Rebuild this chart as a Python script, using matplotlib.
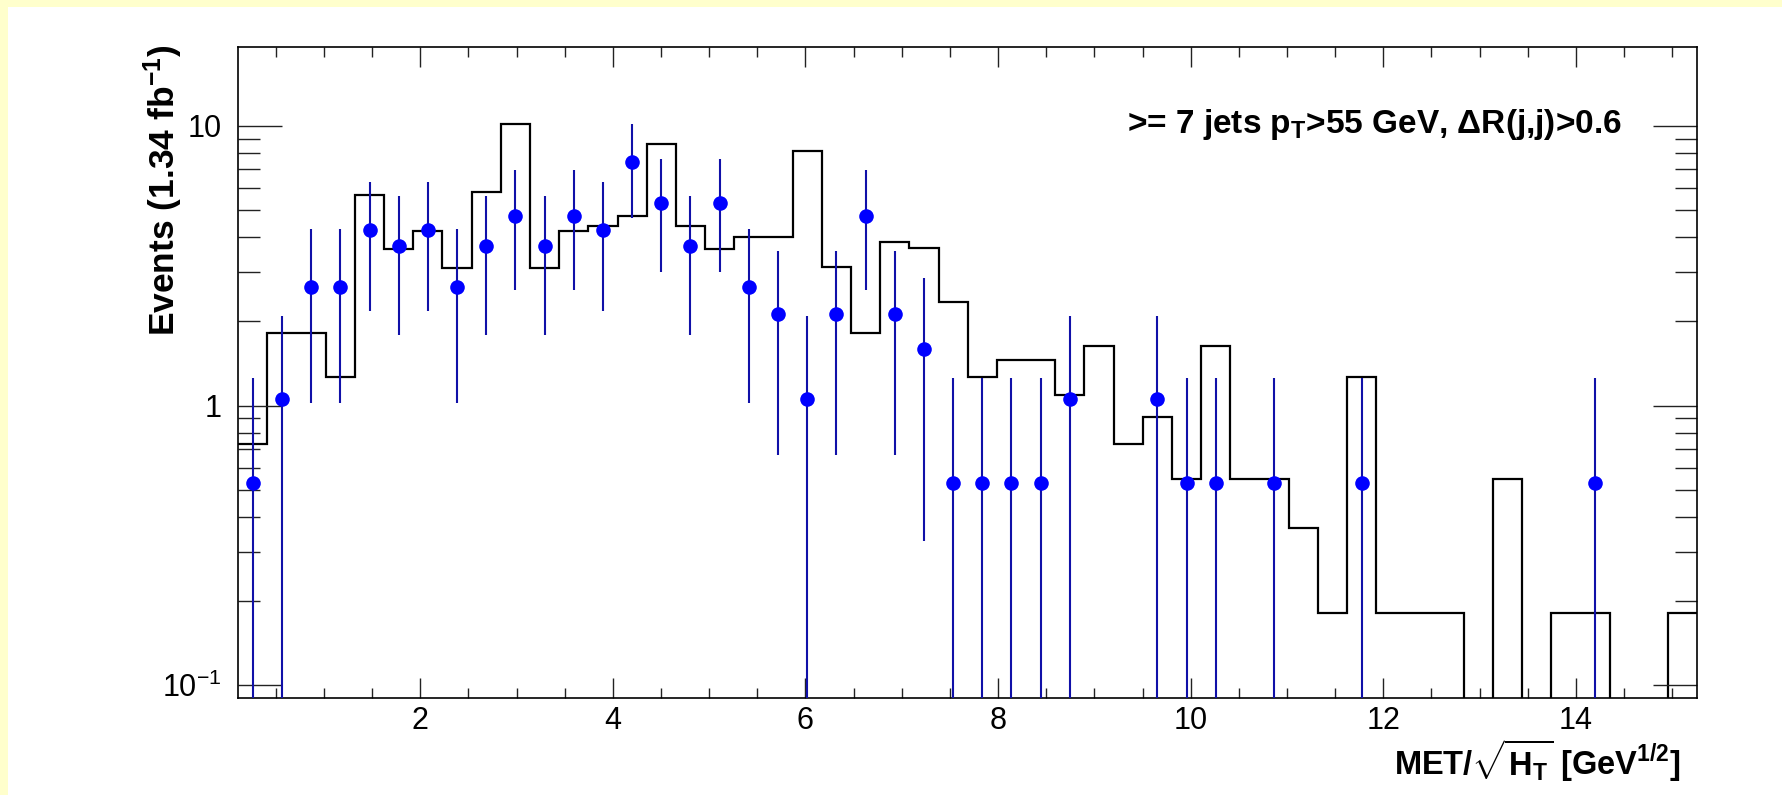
import numpy as np
import matplotlib
matplotlib.use("Agg")
import matplotlib.pyplot as plt
from matplotlib.patches import Rectangle
from matplotlib.ticker import FixedLocator, MultipleLocator, NullFormatter, LogLocator

plt.rcParams['font.family'] = ['Liberation Sans', 'DejaVu Sans']
plt.rcParams['mathtext.fontset'] = 'custom'
plt.rcParams['mathtext.rm'] = 'Liberation Sans'
plt.rcParams['mathtext.bf'] = 'Liberation Sans:bold'
plt.rcParams['mathtext.it'] = 'Liberation Sans:italic'
plt.rcParams['mathtext.sf'] = 'Liberation Sans'

# ---- data ----
x_min, x_max, n_bins = 0.109, 15.26, 50

mc_values = [0.73, 1.82, 1.82, 1.27, 5.68, 3.63, 4.21, 3.11, 5.81, 10.2,
             3.11, 4.21, 4.38, 4.77, 8.62, 4.39, 3.64, 4.00, 4.00, 8.16,
             3.12, 1.82, 3.84, 3.65, 2.35, 1.27, 1.46, 1.46, 1.09, 1.63,
             0.73, 0.91, 0.545, 1.63, 0.545, 0.545, 0.364, 0.182, 1.27, 0.182,
             0.182, 0.182, 0.0, 0.545, 0.0, 0.182, 0.182, 0.0, 0.0, 0.182]

data_values = [0.53, 1.06, 2.65, 2.65, 4.24, 3.71, 4.24, 2.65, 3.71, 4.77,
               3.71, 4.77, 4.24, 7.42, 5.30, 3.71, 5.30, 2.65, 2.12, 1.06,
               2.12, 4.77, 2.12, 1.59, 0.53, 0.53, 0.53, 0.53, 1.06, 0.0,
               0.0, 1.06, 0.53, 0.53, 0.0, 0.53, 0.0, 0.0, 0.53, 0.0,
               0.0, 0.0, 0.0, 0.0, 0.0, 0.0, 0.53, 0.0, 0.0, 0.0]

y_min, y_max = 0.0903, 19.2
x_ticks = [2, 4, 6, 8, 10, 12, 14]
x_tick_labels = ["2", "4", "6", "8", "10", "12", "14"]
y_ticks = [0.1, 1, 10]
y_tick_labels = [r"$\mathregular{10^{-1}}$", "1", "10"]

ylabel_text = r"Events (1.34 fb$^{\mathbf{-1}}$)"
xlabel_text = r"MET/$\sqrt{\mathbf{H}_{\mathbf{T}}}$ [GeV$^{\mathbf{1/2}}$]"
note_text = r">= 7 jets p$_{\mathbf{T}}$>55 GeV, ΔR(j,j)>0.6"

# ---- figure ----
W, H = 1782, 795
fig = plt.figure(figsize=(W / 100, H / 100), dpi=100)
fig.patch.set_facecolor('white')
yellow = '#FFFFCC'
fig.patches.append(Rectangle((0, 1 - 7 / H), 1, 7 / H, transform=fig.transFigure,
                             facecolor=yellow, edgecolor='none', zorder=-10))
fig.patches.append(Rectangle((0, 0), 8 / W, 1, transform=fig.transFigure,
                             facecolor=yellow, edgecolor='none', zorder=-10))

L, R, B, T = 238.2, 1697.2, 697.7, 46.7
ax = fig.add_axes([L / W, 1 - B / H, (R - L) / W, (B - T) / H])

edges = np.linspace(x_min, x_max, n_bins + 1)
centers = 0.5 * (edges[:-1] + edges[1:])
mc = np.array(mc_values)
data = np.array(data_values)

ax.set_yscale('log', nonpositive='clip')
ax.stairs(np.where(mc > 0, mc, 1e-4), edges, baseline=None, color='black', linewidth=1.6)

mask = data > 0
err = np.sqrt(data[mask])
lower = np.minimum(err, data[mask] * 0.999)
ax.errorbar(centers[mask], data[mask], yerr=[lower, err], fmt='none',
            ecolor='#1010A8', elinewidth=1.5, capsize=0, zorder=3)
ax.plot(centers[mask], data[mask], 'o', color='#0000FF', markersize=10.5,
        markeredgewidth=0, zorder=4)

ax.set_xlim(x_min, x_max)
ax.set_ylim(y_min, y_max)

ax.xaxis.set_major_locator(FixedLocator(x_ticks))
ax.set_xticklabels(x_tick_labels)
ax.xaxis.set_minor_locator(MultipleLocator(0.5))
ax.yaxis.set_major_locator(FixedLocator(y_ticks))
ax.set_yticklabels(y_tick_labels)
ax.yaxis.set_minor_locator(LogLocator(base=10, subs=np.arange(2, 10)))
ax.yaxis.set_minor_formatter(NullFormatter())

ax.tick_params(which='both', direction='in', top=True, right=True, width=1.0, color='#222222')
ax.tick_params(axis='x', which='major', length=14.5, pad=6, labelsize=22)
ax.tick_params(axis='x', which='minor', length=7.2)
ax.tick_params(axis='y', which='major', length=31.5, pad=12, labelsize=22)
ax.tick_params(axis='y', which='minor', length=15.8)
for s in ax.spines.values():
    s.set_linewidth(1.2)

fig.text(163 / W, 1 - 190 / H, ylabel_text, rotation=90, ha='center', va='center',
         fontsize=25.5, fontweight='bold')
fig.text(1680 / W, 1 - 775 / H, xlabel_text, ha='right', va='baseline',
         fontsize=23.5, fontweight='bold')
fig.text(1622 / W, 1 - 133 / H, note_text, ha='right', va='baseline',
         fontsize=24, fontweight='bold')

fig.savefig('out.png', dpi=100)
